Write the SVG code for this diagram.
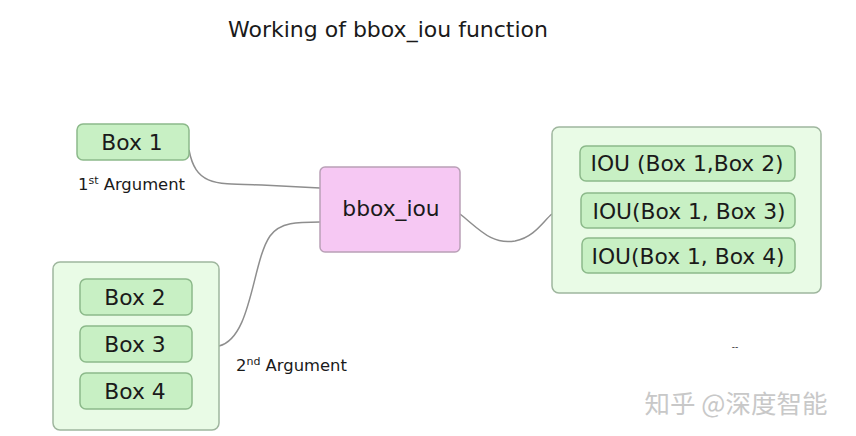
<svg xmlns="http://www.w3.org/2000/svg" width="856" height="436" viewBox="0 0 856 436">
<style>
text{font-family:"DejaVu Sans",sans-serif;fill:#1a1a1a}
.lbl{font-size:21.8px;text-anchor:middle;dominant-baseline:central}
.arg{font-size:16.4px}
.box{fill:#c8f0c4;stroke:#8cb98a;stroke-width:1.5}
.cont{fill:#e9fbe6;stroke:#9fb69e;stroke-width:1.5}
.fn{fill:#f6c8f3;stroke:#b9a0b7;stroke-width:1.5}
.conn{fill:none;stroke:#8e8e8e;stroke-width:1.5}
</style>
<rect width="856" height="436" fill="#ffffff"/>
<text x="388" y="37" font-size="22" text-anchor="middle">Working of bbox_iou function</text>
<g id="connectors">
<path class="conn" d="M189,150 C196,186 215,184 262,185 L320,188"/>
<path class="conn" d="M219,346 C252,338 252,262 270,236 C280,222 298,222 320,222"/>
<path class="conn" d="M460,214 C480,230 492,245 515,241 C535,237 544,220 552,214"/>
</g>
<g id="box1">
<rect class="box" x="77" y="124" width="112" height="36" rx="6"/>
<text class="lbl" x="132" y="142">Box 1</text>
</g>
<text class="arg" x="78" y="190">1<tspan font-size="11" dy="-6">st</tspan><tspan dy="6"> Argument</tspan></text>
<g id="group2">
<rect class="cont" x="53" y="262" width="166" height="168" rx="7"/>
</g>
<g id="box2">
<rect class="box" x="80" y="279" width="112" height="36" rx="6"/>
<text class="lbl" x="135" y="297">Box 2</text>
</g>
<g id="box3">
<rect class="box" x="80" y="326" width="112" height="36" rx="6"/>
<text class="lbl" x="135" y="344">Box 3</text>
</g>
<g id="box4">
<rect class="box" x="80" y="373" width="112" height="36" rx="6"/>
<text class="lbl" x="135" y="391">Box 4</text>
</g>
<text class="arg" x="236" y="371">2<tspan font-size="11" dy="-6">nd</tspan><tspan dy="6"> Argument</tspan></text>
<g id="bbox_iou">
<rect class="fn" x="320" y="167" width="140" height="85" rx="5"/>
<text class="lbl" x="391" y="208">bbox_iou</text>
</g>
<g id="results">
<rect class="cont" x="552" y="127" width="269" height="166" rx="7"/>
</g>
<g id="iou12">
<rect class="box" x="580" y="146" width="215" height="35" rx="6"/>
<text class="lbl" x="687" y="163">IOU (Box 1,Box 2)</text>
</g>
<g id="iou13">
<rect class="box" x="581" y="193" width="214" height="35" rx="6"/>
<text class="lbl" x="689" y="211">IOU(Box 1, Box 3)</text>
</g>
<g id="iou14">
<rect class="box" x="582" y="238" width="213" height="35" rx="6"/>
<text class="lbl" x="688" y="256">IOU(Box 1, Box 4)</text>
</g>
<text x="735" y="350" font-size="9" text-anchor="middle" fill="#666">--</text>
<text x="736" y="413" font-size="25.5" text-anchor="middle" style="font-family:'Noto Sans CJK SC',sans-serif;fill:#c8c8c8">知乎 @深度智能</text>
</svg>
